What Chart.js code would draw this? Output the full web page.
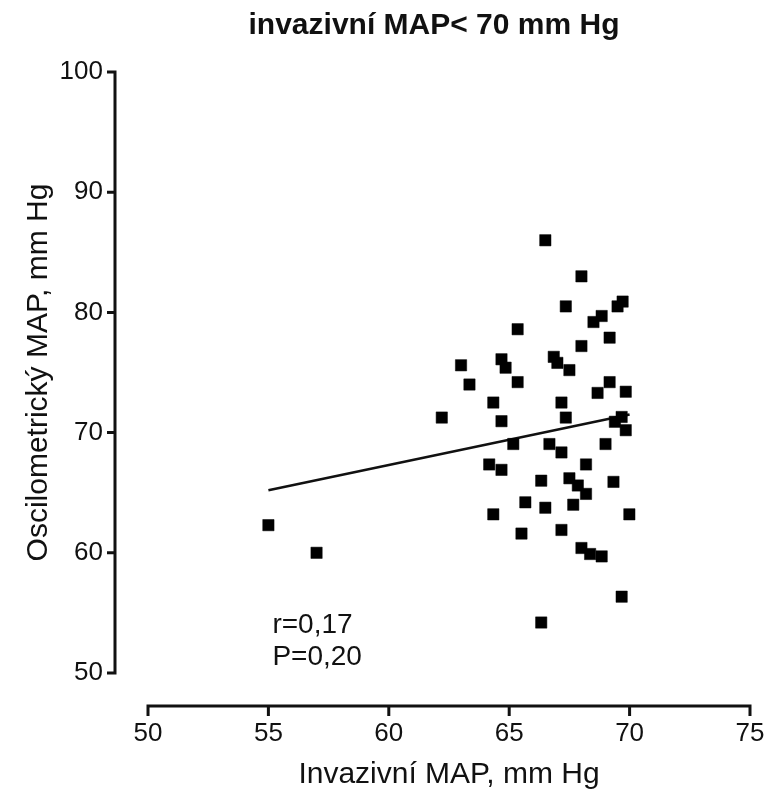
<!DOCTYPE html>
<html>
<head>
<meta charset="utf-8">
<script src="https://cdn.jsdelivr.net/npm/chart.js@4.4.1/dist/chart.umd.min.js"></script>
<style>
  html, body { margin: 0; padding: 0; background: #ffffff; }
  canvas { display: block; }
</style>
</head>
<body>
<canvas id="chart" width="772" height="791"></canvas>
<script>
// ---- data ----
const chartTitle = 'invazivní MAP< 70 mm Hg';
const xAxisTitle = 'Invazivní MAP, mm Hg';
const yAxisTitle = 'Oscilometrický MAP, mm Hg';

const invasiveMAP = [
  55.0, 57.0, 62.2, 63.0, 63.35, 64.34, 64.68, 64.85, 64.68, 65.35,
  65.35, 65.17, 64.17, 64.68, 64.34, 65.51, 65.67, 66.5, 66.33, 66.5,
  66.33, 66.67, 66.85, 67.0, 67.17, 67.35, 67.17, 67.35, 67.5, 67.5,
  67.66, 67.17, 67.85, 68.0, 68.0, 68.19, 68.19, 68.0, 68.36, 68.5,
  68.67, 68.84, 68.84, 69.0, 69.17, 69.17, 69.33, 69.5, 69.71, 69.67,
  69.39, 69.84, 69.84, 69.99, 69.67
];
const oscillometricMAP = [
  62.3, 60.0, 71.25, 75.6, 74.0, 72.5, 76.1, 75.4, 70.95, 78.6,
  74.2, 69.05, 67.35, 66.9, 63.2, 61.6, 64.2, 86.0, 66.0, 63.75,
  54.2, 69.05, 76.3, 75.8, 72.5, 71.25, 68.35, 80.5, 75.2, 66.2,
  64.0, 61.9, 65.6, 83.0, 77.2, 67.35, 64.9, 60.4, 59.9, 79.2,
  73.3, 79.7, 59.7, 69.05, 77.9, 74.2, 65.9, 80.5, 80.9, 71.3,
  70.9, 70.2, 73.4, 63.2, 56.35
];

const regressionX = [55, 70];
const regressionY = [65.2, 71.5];

const xTickValues = [50, 55, 60, 65, 70, 75];
const yTickValues = [50, 60, 70, 80, 90, 100];

const statsLines = ['r=0,17', 'P=0,20'];

// ---- build library structures ----
const scatterPoints = invasiveMAP.map((v, i) => ({ x: v, y: oscillometricMAP[i] }));
const regressionPoints = regressionX.map((v, i) => ({ x: v, y: regressionY[i] }));

const FONT = '"Liberation Sans", Arial, Helvetica, sans-serif';
const INK = '#111111';
Chart.defaults.font.family = FONT;
Chart.defaults.color = INK;

// Prism-style detached axes + statistics text
const prismAxes = {
  id: 'prismAxes',
  afterDraw(chart) {
    const { ctx, chartArea, scales } = chart;
    const xs = scales.x, ys = scales.y;
    const yLineX = chartArea.left - 33;
    const xLineY = chartArea.bottom + 33;
    ctx.save();
    ctx.strokeStyle = INK;
    ctx.lineWidth = 3;
    ctx.lineCap = 'butt';
    ctx.lineJoin = 'miter';
    // y axis
    const yTop = ys.getPixelForValue(yTickValues[yTickValues.length - 1]);
    const yBot = ys.getPixelForValue(yTickValues[0]);
    ctx.beginPath();
    ctx.moveTo(yLineX - 8, yTop);
    ctx.lineTo(yLineX, yTop);
    ctx.lineTo(yLineX, yBot);
    ctx.lineTo(yLineX - 8, yBot);
    ctx.stroke();
    ctx.beginPath();
    yTickValues.slice(1, -1).forEach(v => {
      const p = ys.getPixelForValue(v);
      ctx.moveTo(yLineX - 8, p);
      ctx.lineTo(yLineX, p);
    });
    ctx.stroke();
    // x axis
    const xL = xs.getPixelForValue(xTickValues[0]);
    const xR = xs.getPixelForValue(xTickValues[xTickValues.length - 1]);
    ctx.beginPath();
    ctx.moveTo(xL, xLineY + 10);
    ctx.lineTo(xL, xLineY);
    ctx.lineTo(xR, xLineY);
    ctx.lineTo(xR, xLineY + 10);
    ctx.stroke();
    ctx.beginPath();
    xTickValues.slice(1, -1).forEach(v => {
      const p = xs.getPixelForValue(v);
      ctx.moveTo(p, xLineY);
      ctx.lineTo(p, xLineY + 10);
    });
    ctx.stroke();
    // statistics text
    ctx.fillStyle = INK;
    ctx.font = '28px ' + FONT;
    ctx.textAlign = 'left';
    ctx.textBaseline = 'alphabetic';
    const tx = xs.getPixelForValue(55) + 4;
    statsLines.forEach((t, i) => {
      ctx.fillText(t, tx, chartArea.bottom - 40 + i * 32);
    });
    ctx.restore();
  }
};

const hiddenTickGrid = {
  display: true,
  drawOnChartArea: false,
  drawTicks: true,
  tickLength: 40,
  tickColor: 'rgba(0,0,0,0)',
  color: 'rgba(0,0,0,0)'
};

new Chart(document.getElementById('chart'), {
  type: 'scatter',
  data: {
    datasets: [
      {
        type: 'line',
        label: 'regrese',
        data: regressionPoints,
        borderColor: INK,
        borderWidth: 2.5,
        pointRadius: 0,
        fill: false,
        tension: 0,
        order: 2
      },
      {
        label: 'MAP',
        data: scatterPoints,
        pointStyle: 'rect',
        pointRadius: 8,
        backgroundColor: '#000000',
        borderColor: '#000000',
        borderWidth: 0.5,
        order: 1
      }
    ]
  },
  options: {
    responsive: false,
    animation: false,
    devicePixelRatio: 1,
    events: [],
    layout: { padding: { left: 0, right: -96, top: 0, bottom: 0 } },
    plugins: {
      legend: { display: false },
      tooltip: { enabled: false },
      title: {
        display: true,
        text: chartTitle,
        color: INK,
        font: { size: 30, weight: 'bold', family: FONT },
        padding: { top: 7.5, bottom: 28.5 }
      }
    },
    scales: {
      x: {
        type: 'linear',
        position: 'bottom',
        min: xTickValues[0],
        max: xTickValues[xTickValues.length - 1],
        afterBuildTicks: s => { s.ticks = xTickValues.map(v => ({ value: v })); },
        ticks: { padding: 5, color: INK, font: { size: 26 } },
        grid: hiddenTickGrid,
        border: { display: false },
        title: {
          display: true,
          text: xAxisTitle,
          color: INK,
          font: { size: 30, lineHeight: 1 },
          padding: { top: 0, bottom: 1 }
        },
        afterFit: s => { s.height = 118; }
      },
      y: {
        type: 'linear',
        position: 'left',
        min: yTickValues[0],
        max: yTickValues[yTickValues.length - 1],
        afterBuildTicks: s => { s.ticks = yTickValues.map(v => ({ value: v })); },
        ticks: { padding: 5, color: INK, font: { size: 26 } },
        grid: hiddenTickGrid,
        border: { display: false },
        title: {
          display: true,
          text: yAxisTitle,
          color: INK,
          font: { size: 30, lineHeight: 1.2 },
          padding: { top: 21, bottom: 0 }
        },
        afterFit: s => { s.width = 148; }
      },
      yR: {
        type: 'linear',
        position: 'right',
        display: true,
        ticks: { display: false },
        grid: { display: false, drawTicks: false },
        border: { display: false },
        afterFit: s => { s.width = 118; }
      }
    }
  },
  plugins: [prismAxes]
});
</script>
</body>
</html>
